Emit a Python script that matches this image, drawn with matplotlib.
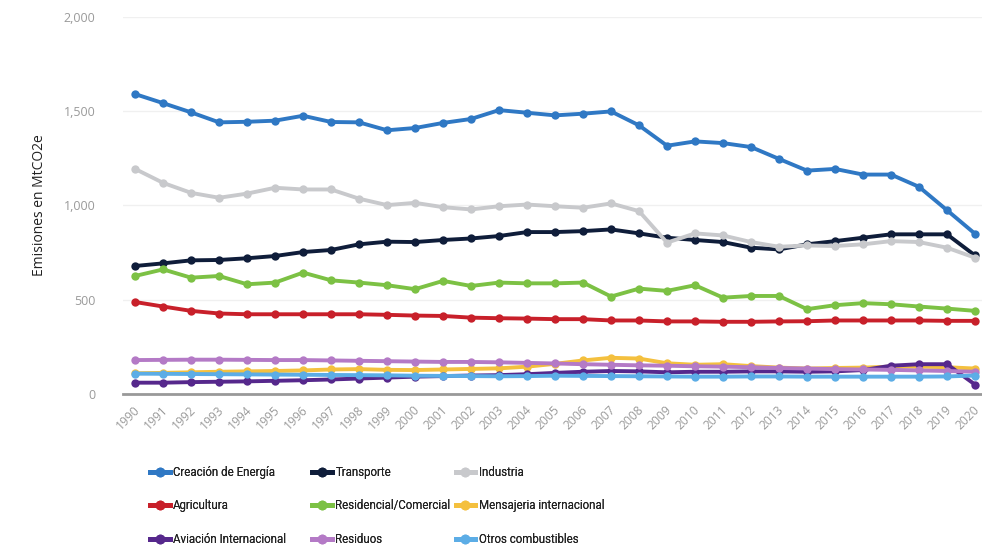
import matplotlib
matplotlib.use("Agg")
import matplotlib.pyplot as plt
from matplotlib.lines import Line2D
from matplotlib.transforms import ScaledTranslation

years = list(range(1990, 2021))

creacion_energia = [1591, 1543, 1494, 1441, 1444, 1450, 1476, 1443, 1441, 1399,
                    1411, 1438, 1459, 1506, 1492, 1478, 1487, 1499, 1425, 1317,
                    1340, 1331, 1310, 1247, 1185, 1194, 1164, 1164, 1099, 975, 850]
transporte = [679, 693, 709, 711, 720, 732, 753, 764, 794, 808,
              806, 817, 825, 838, 859, 859, 864, 873, 852, 829,
              817, 806, 776, 767, 794, 811, 829, 847, 847, 847, 735]
industria = [1194, 1120, 1067, 1041, 1063, 1094, 1085, 1085, 1036, 1002,
             1014, 991, 979, 996, 1005, 996, 988, 1011, 970, 803,
             852, 841, 806, 781, 788, 785, 794, 811, 806, 776, 723]
agricultura = [488, 464, 441, 427, 423, 423, 423, 423, 423, 420,
               416, 414, 405, 402, 400, 397, 397, 390, 390, 385,
               385, 383, 383, 385, 386, 390, 390, 390, 390, 388, 388]
residencial_comercial = [626, 661, 617, 626, 582, 591, 644, 603, 591, 577,
                         556, 600, 573, 591, 587, 587, 591, 517, 559, 547,
                         577, 511, 520, 520, 450, 471, 482, 476, 464, 453, 441]
mensajeria_internacional = [110, 112, 115, 118, 120, 122, 125, 130, 132, 128,
                            127, 130, 133, 136, 145, 160, 178, 192, 188, 163,
                            155, 158, 148, 140, 135, 138, 140, 145, 145, 142, 135]
aviacion_internacional = [60, 60, 63, 65, 67, 70, 73, 77, 82, 87,
                          92, 95, 98, 100, 105, 112, 118, 122, 120, 115,
                          118, 118, 120, 120, 118, 120, 127, 150, 158, 158, 50]
residuos = [180, 181, 182, 182, 181, 180, 180, 178, 176, 174,
            172, 170, 170, 168, 165, 162, 158, 155, 152, 150,
            147, 145, 142, 138, 135, 132, 130, 128, 125, 122, 118]
otros_combustibles = [108, 107, 106, 105, 104, 103, 102, 101, 100, 99,
                      97, 96, 95, 94, 95, 97, 96, 95, 94, 93,
                      92, 92, 93, 93, 92, 92, 92, 92, 92, 93, 98]

series = [
    ("Creación de Energía", creacion_energia, "#2f78c4"),
    ("Transporte", transporte, "#0f1d3a"),
    ("Industria", industria, "#c8c9cc"),
    ("Agricultura", agricultura, "#c8202a"),
    ("Residencial/Comercial", residencial_comercial, "#7cc144"),
    ("Mensajeria internacional", mensajeria_internacional, "#f4c03e"),
    ("Aviación Internacional", aviacion_internacional, "#56288c"),
    ("Residuos", residuos, "#b47ac6"),
    ("Otros combustibles", otros_combustibles, "#5cade6"),
]

y_ticks = [0, 500, 1000, 1500, 2000]
y_tick_labels = ["0", "500", "1,000", "1,500", "2,000"]

plt.rcParams["font.family"] = ["Open Sans", "DejaVu Sans"]

fig = plt.figure(figsize=(9.82, 5.46), dpi=100)
ax = fig.add_axes([0.1253, 0.2784, 0.8747, 0.6905])

handles = []
for name, vals, color in series:
    ax.plot(years, vals, color=color, lw=2.8, marker="o", ms=6,
            markeredgewidth=0, solid_joinstyle="round", label=name)
    handles.append(Line2D([], [], color=color, lw=3.5, marker="o", ms=7,
                          markeredgewidth=0))

ax.set_xlim(1989.57, 2020.25)
ax.set_ylim(0, 2000)
ax.set_yticks(y_ticks)
ax.set_yticklabels(y_tick_labels)
ax.set_xticks(years)
ax.set_xticklabels([str(y) for y in years], rotation=45, ha="right",
                   rotation_mode="anchor")
ax.tick_params(axis="both", length=0, colors="#9a9a9a")
ax.tick_params(axis="y", pad=20, labelsize=9)
ax.tick_params(axis="x", pad=7, labelsize=8.7)
shift = ScaledTranslation(-2 / 100, 0, fig.dpi_scale_trans)
for lab in ax.get_xticklabels():
    lab.set_transform(lab.get_transform() + shift)
ax.grid(axis="y", color="#f0f0f0", lw=1)
ax.set_axisbelow(True)
for s in ["top", "right", "left"]:
    ax.spines[s].set_visible(False)
ax.spines["bottom"].set_color("#999999")
ax.spines["bottom"].set_linewidth(2)
ax.set_ylabel("Emisiones en MtCO2e", fontsize=10, color="#222222", labelpad=12)

# legend laid out as three columns of three entries
col_x = [0.153, 0.318, 0.464]
for c in range(3):
    idx = [c, c + 3, c + 6]
    leg = fig.legend([handles[i] for i in idx], [series[i][0] for i in idx],
                     loc="upper left", bbox_to_anchor=(col_x[c], 0.146),
                     frameon=False, handlelength=1.7,
                     handletextpad=0.3, labelspacing=1.75, borderaxespad=0,
                     borderpad=0,
                     prop={"family": ["Roboto", "DejaVu Sans"], "size": 8.3})
    for t in leg.get_texts():
        t.set_color("#222222")
    fig.add_artist(leg)

fig.savefig("out.png", dpi=100)
